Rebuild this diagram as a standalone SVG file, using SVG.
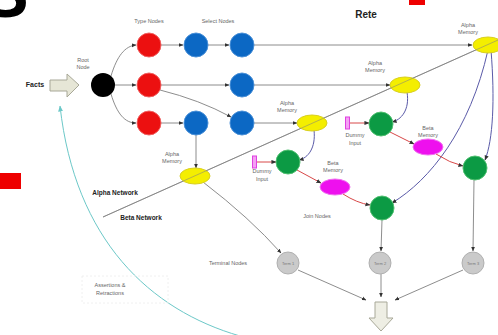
<svg xmlns="http://www.w3.org/2000/svg" width="498" height="335" viewBox="0 0 498 335">
<style>
.lbl{font-family:"Liberation Sans",Arial,sans-serif;font-size:5.5px;fill:#666;text-anchor:middle}
.bold{font-family:"Liberation Sans",Arial,sans-serif;font-weight:bold;fill:#222;text-anchor:middle}
.e{fill:none;stroke:#808080;stroke-width:0.9}
.eb{fill:none;stroke:#5a5aa8;stroke-width:1}
.er{fill:none;stroke:#d84848;stroke-width:1}
.red{fill:#ec1010;stroke:#f06060;stroke-width:1}
.blue{fill:#0c68c4;stroke:#4a90d8;stroke-width:1}
.yel{fill:#f4ee00;stroke:#d8cf20;stroke-width:1}
.grn{fill:#0c9a44;stroke:#50c070;stroke-width:1}
.mag{fill:#ee10ee;stroke:#f070f0;stroke-width:1}
.term{fill:#cacaca;stroke:#b0b0b0;stroke-width:1}
.dum{fill:#f4a0f4;stroke:#e040e0;stroke-width:1}
.tl{font-family:"Liberation Sans",Arial,sans-serif;font-size:4px;fill:#777;text-anchor:middle}
</style>
<defs>
<marker id="a" viewBox="0 0 6 6" refX="5.5" refY="3" markerWidth="5" markerHeight="5" orient="auto"><path d="M0,0.5 L6,3 L0,5.5 Z" fill="#333"/></marker>
<marker id="ac" viewBox="0 0 6 6" refX="5.5" refY="3" markerWidth="6" markerHeight="6" orient="auto"><path d="M0,0.5 L6,3 L0,5.5 Z" fill="#6cc8c8"/></marker>
</defs>
<rect width="498" height="335" fill="#fff"/>
<text x="-18" y="17" font-family="Liberation Sans, Arial, sans-serif" font-weight="bold" font-size="70" fill="#000">S</text>
<rect x="409" y="0" width="16" height="5" fill="#ee0000"/>
<rect x="0" y="173" width="21" height="16" fill="#ee0000"/>
<text class="bold" x="366" y="18" font-size="10">Rete</text>

<g id="connectors">
<path class="e" d="M103,217 L498,40"/>
<path class="e" d="M111,76 C117,56 125,46 136,45" marker-end="url(#a)"/>
<path class="e" d="M115,85 L136,85" marker-end="url(#a)"/>
<path class="e" d="M111,94 C117,114 125,123 136,123" marker-end="url(#a)"/>
<path class="e" d="M161,45 L183,45" marker-end="url(#a)"/>
<path class="e" d="M208,45 L229,45" marker-end="url(#a)"/>
<path class="e" d="M161,85 L229,85" marker-end="url(#a)"/>
<path class="e" d="M160,90 Q200,100 231,117" marker-end="url(#a)"/>
<path class="e" d="M161,123 L183,123" marker-end="url(#a)"/>
<path class="e" d="M196,135 L196,168" marker-end="url(#a)"/>
<path class="e" d="M254,45 L472,45" marker-end="url(#a)"/>
<path class="e" d="M254,85 L390,85" marker-end="url(#a)"/>
<path class="e" d="M254,123 L297,123" marker-end="url(#a)"/>
<path class="eb" d="M407,92 C410,110 401,120 392,122" marker-end="url(#a)"/>
<path class="eb" d="M314,130 C316,148 308,158 299,160" marker-end="url(#a)"/>
<path class="eb" d="M488,50 C470,130 430,180 392,203" marker-end="url(#a)"/>
<path class="eb" d="M491,50 C495,100 493,140 485,160" marker-end="url(#a)"/>
<path class="er" d="M350,123 L369,123" marker-end="url(#a)"/>
<path class="er" d="M257,162 L276,162" marker-end="url(#a)"/>
<path class="er" d="M390,132 L414,144" marker-end="url(#a)"/>
<path class="er" d="M436,154 Q450,163 463,166" marker-end="url(#a)"/>
<path class="er" d="M297,170 L321,183" marker-end="url(#a)"/>
<path class="er" d="M343,194 Q357,203 370,205" marker-end="url(#a)"/>
<path class="e" d="M203,182 Q250,218 281,253" marker-end="url(#a)"/>
<path class="e" d="M382,220 L381,251" marker-end="url(#a)"/>
<path class="e" d="M474,180 L473,251" marker-end="url(#a)"/>
<path class="e" d="M298,270 L366,300" marker-end="url(#a)"/>
<path class="e" d="M381,274 L381,297" marker-end="url(#a)"/>
<path class="e" d="M463,270 L395,300" marker-end="url(#a)"/>
<path d="M240,336 C150,310 75,240 60,106" fill="none" stroke="#6cc8c8" stroke-width="1" marker-end="url(#ac)"/>
</g>

<g id="facts">
<path d="M50,80 L67,80 L67,74 L79,85 L67,97 L67,91 L50,91 Z" fill="#e6e6d6" stroke="#a8a898" stroke-width="1"/>
<text class="bold" x="35" y="87" font-size="7">Facts</text>
</g>
<g id="output"><path d="M375,302 L387,302 L387,318 L393,318 L381,331 L369,318 L375,318 Z" fill="#eeeee4" stroke="#a8a898" stroke-width="1"/></g>

<g id="root"><circle cx="103" cy="85" r="12" fill="#000"/><text class="lbl" x="83" y="62">Root</text><text class="lbl" x="83" y="69">Node</text></g>
<g id="type1"><circle class="red" cx="149" cy="45" r="12"/></g>
<g id="type2"><circle class="red" cx="149" cy="85" r="12"/></g>
<g id="type3"><circle class="red" cx="149" cy="123" r="12"/></g>
<text class="lbl" x="149" y="23">Type Nodes</text>
<text class="lbl" x="218" y="23">Select Nodes</text>
<g id="sel1"><circle class="blue" cx="196" cy="45" r="12"/></g>
<g id="sel2"><circle class="blue" cx="242" cy="45" r="12"/></g>
<g id="sel3"><circle class="blue" cx="242" cy="85" r="12"/></g>
<g id="sel4"><circle class="blue" cx="196" cy="123" r="12"/></g>
<g id="sel5"><circle class="blue" cx="242" cy="123" r="12"/></g>

<g id="am1"><ellipse class="yel" cx="488" cy="45" rx="15" ry="8"/><text class="lbl" x="468" y="27">Alpha</text><text class="lbl" x="468" y="34">Memory</text></g>
<g id="am2"><ellipse class="yel" cx="405" cy="85" rx="15" ry="8"/><text class="lbl" x="375" y="65">Alpha</text><text class="lbl" x="375" y="72">Memory</text></g>
<g id="am3"><ellipse class="yel" cx="312" cy="123" rx="15" ry="8"/><text class="lbl" x="287" y="105">Alpha</text><text class="lbl" x="287" y="112">Memory</text></g>
<g id="am4"><ellipse class="yel" cx="195" cy="176" rx="15" ry="8"/><text class="lbl" x="172" y="156">Alpha</text><text class="lbl" x="172" y="163">Memory</text></g>
<path class="e" d="M103,217 L498,40" opacity="0.6"/>

<g id="dummy1"><rect class="dum" x="345.5" y="117" width="4" height="12"/><text class="lbl" x="355" y="137">Dummy</text><text class="lbl" x="355" y="145">Input</text></g>
<g id="dummy2"><rect class="dum" x="252.5" y="156" width="4" height="12"/><text class="lbl" x="262" y="173">Dummy</text><text class="lbl" x="262" y="181">Input</text></g>

<g id="join1"><circle class="grn" cx="381" cy="124" r="12"/></g>
<g id="join2"><circle class="grn" cx="288" cy="162" r="12"/></g>
<g id="join3"><circle class="grn" cx="475" cy="168" r="12"/></g>
<g id="join4"><circle class="grn" cx="382" cy="208" r="12"/></g>
<text class="lbl" x="317" y="218">Join Nodes</text>

<g id="bm1"><ellipse class="mag" cx="428" cy="147" rx="15" ry="8"/><text class="lbl" x="428" y="130">Beta</text><text class="lbl" x="428" y="137">Memory</text></g>
<g id="bm2"><ellipse class="mag" cx="335" cy="187" rx="15" ry="8"/><text class="lbl" x="333" y="165">Beta</text><text class="lbl" x="333" y="172">Memory</text></g>

<g id="term1"><circle class="term" cx="288" cy="263" r="11"/><text class="tl" x="288" y="265">Term 1</text></g>
<g id="term2"><circle class="term" cx="380" cy="263" r="11"/><text class="tl" x="380" y="265">Term 2</text></g>
<g id="term3"><circle class="term" cx="473" cy="263" r="11"/><text class="tl" x="473" y="265">Term 3</text></g>
<text class="lbl" x="228" y="265">Terminal Nodes</text>

<text class="bold" x="115" y="195" font-size="6.5">Alpha Network</text>
<text class="bold" x="141" y="220" font-size="6.5">Beta Network</text>
<g id="assert"><rect x="82" y="276" width="86" height="27" fill="none" stroke="#ececec" stroke-width="0.8" stroke-dasharray="2,2"/><text class="lbl" x="110" y="287">Assertions &amp;</text><text class="lbl" x="110" y="295">Retractions</text></g>
</svg>
